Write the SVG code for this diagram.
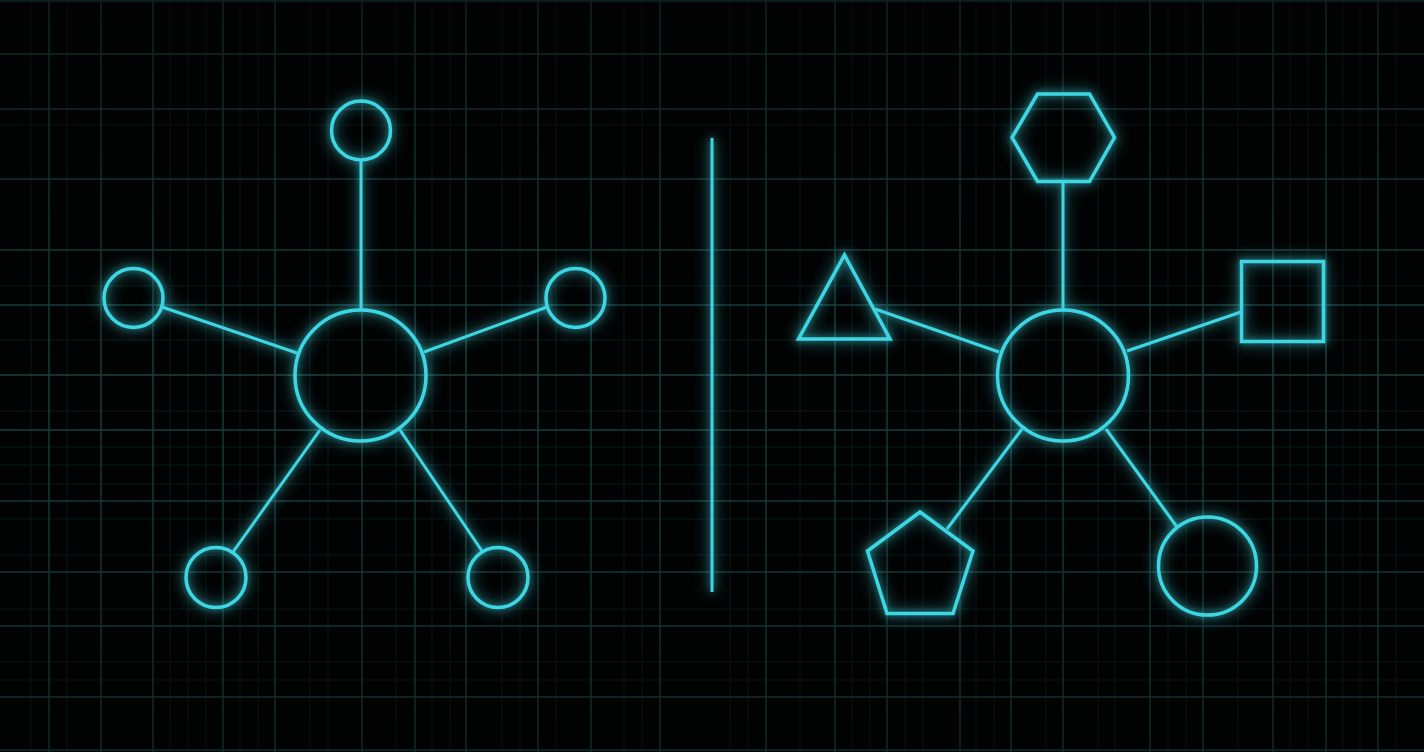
<svg xmlns="http://www.w3.org/2000/svg" width="1424" height="752" viewBox="0 0 1424 752">
<defs>
<style>
.maj{stroke:#1a4243;stroke-width:1.4;fill:none}
.min{stroke:#0b1c1c;stroke-width:1;fill:none}
.shape{fill:none;stroke:#3cd6e2;stroke-width:3.5;stroke-linejoin:miter}
.conn{fill:none;stroke:#3cd6e2;stroke-width:3}
</style>
<filter id="glow" x="-30%" y="-30%" width="160%" height="160%">
<feGaussianBlur in="SourceGraphic" stdDeviation="3" result="b1"/>
<feGaussianBlur in="SourceGraphic" stdDeviation="8" result="b"/>
<feColorMatrix in="b" type="matrix" values="1 0 0 0 0  0 1 0 0 0  0 0 1 0 0  0 0 0 0.9 0" result="b2"/>
<feColorMatrix in="b1" type="matrix" values="1 0 0 0 0  0 1 0 0 0  0 0 1 0 0  0 0 0 0.6 0" result="b3"/>
<feMerge><feMergeNode in="b2"/><feMergeNode in="b3"/><feMergeNode in="SourceGraphic"/></feMerge>
</filter>
<linearGradient id="fade" x1="0" y1="0" x2="0" y2="1">
<stop offset="0" stop-color="#fff" stop-opacity="0.55"/>
<stop offset="0.5" stop-color="#fff" stop-opacity="1"/>
<stop offset="1" stop-color="#fff" stop-opacity="0.65"/>
</linearGradient>
<mask id="gm"><rect width="1424" height="752" fill="url(#fade)"/></mask>
</defs>
<rect width="1424" height="752" fill="#010202"/>
<g id="grid" mask="url(#gm)">
<g class="min">
<path d="M31 0V752M67 0V752M170 0V752M188 0V752M206 0V752M240 0V752M258 0V752M310 0V752M328 0V752M396 0V752M432 0V752M450 0V752M502 0V752M520 0V752M556 0V752M624 0V752M642 0V752M730 0V752M748 0V752M800 0V752M852 0V752M870 0V752M905 0V752M923 0V752M976 0V752M994 0V752M1046 0V752M1098 0V752M1115 0V752M1168 0V752M1186 0V752M1238 0V752M1290 0V752M1308 0V752M1343 0V752M1360 0V752M1396 0V752"/>
<path d="M0 125H1424M0 286H1424M0 340H1424M0 411H1424M0 447H1424M0 465H1424M0 484H1424M0 519H1424M0 555H1424M0 609H1424M0 662H1424M0 680H1424"/>
</g>
<g class="maj">
<path d="M49 0V752M101 0V752M153 0V752M223 0V752M275 0V752M362 0V752M415 0V752M466 0V752M538 0V752M591 0V752M660 0V752M766 0V752M835 0V752M887 0V752M960 0V752M1011 0V752M1063 0V752M1150 0V752M1203 0V752M1273 0V752M1326 0V752M1378 0V752"/>
<path d="M0 1H1424M0 54H1424M0 109H1424M0 179H1424M0 250H1424M0 305H1424M0 375H1424M0 430H1424M0 501H1424M0 572H1424M0 626H1424M0 697H1424M0 750H1424"/>
</g>
</g>
<g id="connectors" filter="url(#glow)">
<line class="conn" x1="361" y1="160" x2="361" y2="310"/>
<line class="conn" x1="162" y1="307" x2="297" y2="353"/>
<line class="conn" x1="547" y1="307" x2="424" y2="352"/>
<line class="conn" x1="233" y1="552" x2="320" y2="430"/>
<line class="conn" x1="482" y1="551" x2="400" y2="430"/>
<line class="conn" x1="712" y1="138" x2="712" y2="592"/>
<line class="conn" x1="1063" y1="182" x2="1063" y2="310"/>
<line class="conn" x1="875" y1="309" x2="999" y2="352"/>
<line class="conn" x1="1241" y1="312" x2="1127" y2="351"/>
<line class="conn" x1="947" y1="529" x2="1022" y2="429"/>
<line class="conn" x1="1177" y1="527" x2="1106" y2="429"/>
</g>
<g id="left-hub" filter="url(#glow)"><circle class="shape" cx="360.5" cy="375.5" r="65.5"/></g>
<g id="left-top" filter="url(#glow)"><circle class="shape" cx="361" cy="130.5" r="29.5"/></g>
<g id="left-left" filter="url(#glow)"><circle class="shape" cx="133.5" cy="298" r="29.5"/></g>
<g id="left-right" filter="url(#glow)"><circle class="shape" cx="575.5" cy="298" r="29.5"/></g>
<g id="left-bottom-left" filter="url(#glow)"><circle class="shape" cx="216" cy="577.5" r="30"/></g>
<g id="left-bottom-right" filter="url(#glow)"><circle class="shape" cx="498" cy="577.5" r="30"/></g>
<g id="right-hub" filter="url(#glow)"><circle class="shape" cx="1063" cy="375.5" r="65.5"/></g>
<g id="hexagon" filter="url(#glow)"><polygon class="shape" points="1037.5,94 1089.5,94 1114.5,137.5 1089.5,181.5 1037.5,181.5 1012,137.5"/></g>
<g id="triangle" filter="url(#glow)"><polygon class="shape" points="844.5,255 890,339 798.5,339"/></g>
<g id="square" filter="url(#glow)"><rect class="shape" x="1241.5" y="261.5" width="82" height="80"/></g>
<g id="pentagon" filter="url(#glow)"><polygon class="shape" points="920,512 973,551 953,613.5 887,613.5 867.5,551"/></g>
<g id="circle-node" filter="url(#glow)"><circle class="shape" cx="1207.5" cy="566" r="49"/></g>
</svg>
